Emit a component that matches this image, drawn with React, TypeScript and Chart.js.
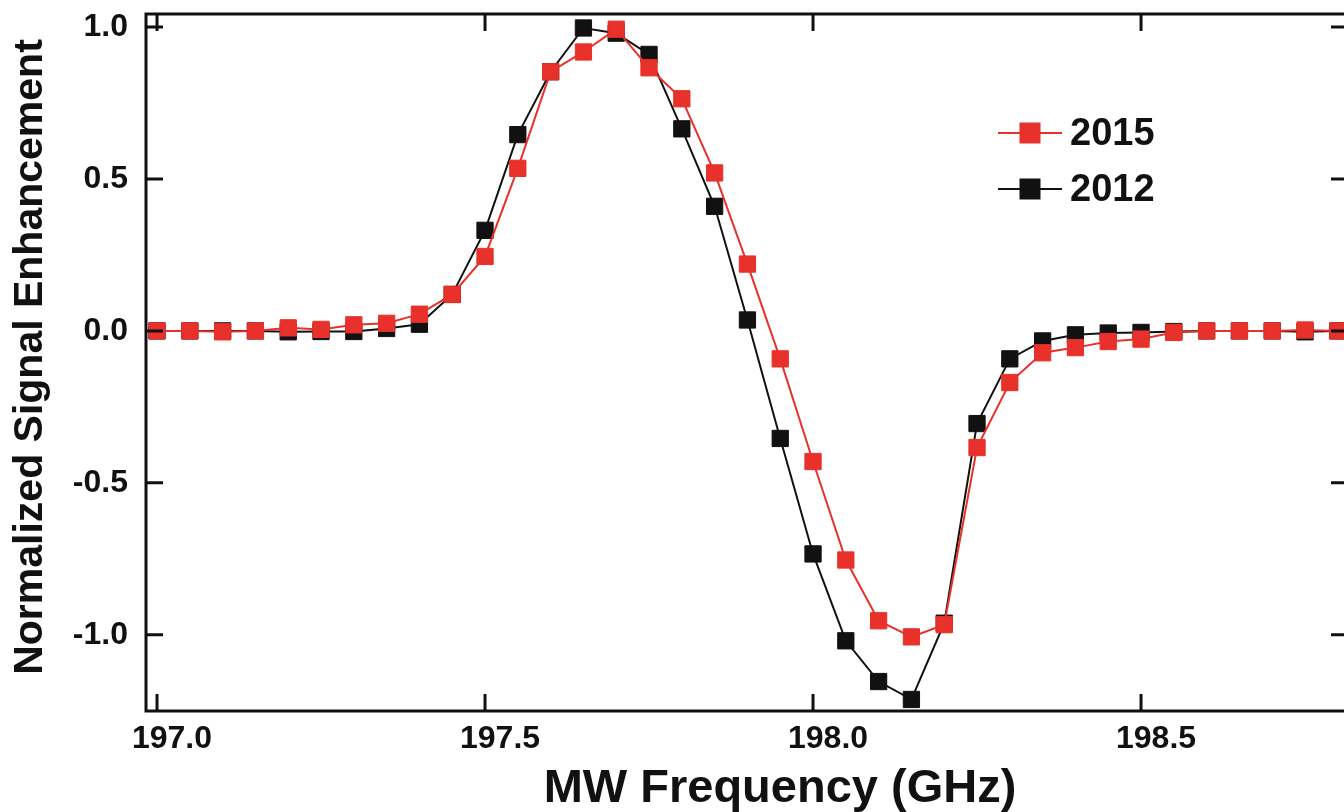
import React, { useEffect, useRef } from "react";
import { Chart, registerables } from "chart.js";

Chart.register(...registerables);

// ---- data ----
const frequencies = [
  197.0, 197.05, 197.1, 197.15, 197.2, 197.25, 197.3, 197.35, 197.4, 197.45,
  197.5, 197.55, 197.6, 197.65, 197.7, 197.75, 197.8, 197.85, 197.9, 197.95,
  198.0, 198.05, 198.1, 198.15, 198.2, 198.25, 198.3, 198.35, 198.4, 198.45,
  198.5, 198.55, 198.6, 198.65, 198.7, 198.75, 198.8,
];

const values2015 = [
  0, 0, -0.003, 0, 0.01, 0.005, 0.02, 0.025, 0.055, 0.12,
  0.245, 0.535, 0.853, 0.918, 0.993, 0.866, 0.764, 0.52, 0.22, -0.092,
  -0.43, -0.754, -0.954, -1.007, -0.967, -0.384, -0.17, -0.072, -0.055, -0.035,
  -0.027, -0.005, 0, 0, 0, 0.003, 0,
];

const values2012 = [
  0, 0, 0, 0, -0.003, -0.002, -0.002, 0.008, 0.022, 0.12,
  0.331, 0.646, 0.853, 0.997, 0.98, 0.91, 0.665, 0.41, 0.036, -0.354,
  -0.734, -1.02, -1.154, -1.213, -0.962, -0.305, -0.092, -0.033, -0.013, -0.007,
  -0.005, -0.002, 0, 0, 0, -0.003, 0,
];

const seriesLabels = ["2015", "2012"];
const seriesColors = ["#e8312a", "#111111"];

const xTickValues = [197.0, 197.5, 198.0, 198.5];
const yTickValues = [-1.0, -0.5, 0.0, 0.5, 1.0];

const xAxisTitle = "MW Frequency (GHz)";
const yAxisTitle = "Normalized Signal Enhancement";

// ---- styling ----
const FONT_FAMILY = "'Liberation Sans', Arial, Helvetica, sans-serif";
const INK = "#111111";
const CANVAS_W = 1352; // wider than the window: right frame falls just off-screen
const CANVAS_H = 812;

const framePlugin = {
  id: "frameTicks",
  afterDatasetsDraw(chart: any) {
    const { ctx, chartArea } = chart;
    const { left, right, top, bottom } = chartArea;
    const xs = chart.scales.x;
    const ys = chart.scales.y;
    const len = 17;
    ctx.save();
    ctx.strokeStyle = INK;
    ctx.lineWidth = 3;
    ctx.lineCap = "butt";
    ctx.beginPath();
    ctx.rect(left, top, right - left, bottom - top);
    ctx.stroke();
    ctx.beginPath();
    xTickValues.forEach((v) => {
      const px = xs.getPixelForValue(v);
      ctx.moveTo(px, bottom);
      ctx.lineTo(px, bottom - len);
      ctx.moveTo(px, top);
      ctx.lineTo(px, top + len);
    });
    yTickValues.forEach((v) => {
      const py = ys.getPixelForValue(v);
      ctx.moveTo(left, py);
      ctx.lineTo(left + len, py);
      ctx.moveTo(right, py);
      ctx.lineTo(right - len, py);
    });
    ctx.stroke();

    // axis titles
    ctx.fillStyle = INK;
    ctx.textAlign = "center";
    ctx.textBaseline = "middle";
    ctx.font = `bold 47px ${FONT_FAMILY}`;
    ctx.fillText(xAxisTitle, 780, 789);
    ctx.save();
    ctx.translate(31, 357);
    ctx.rotate(-Math.PI / 2);
    ctx.font = `bold 41px ${FONT_FAMILY}`;
    ctx.fillText(yAxisTitle, 0, 0);
    ctx.restore();
    ctx.restore();
  },
};

const legendPlugin = {
  id: "insideLegend",
  afterDraw(chart: any) {
    const { ctx } = chart;
    const rows = [133, 189];
    const lineX0 = 998;
    const lineX1 = 1062;
    const markX = 1030;
    const size = 21;
    const textX = 1070;
    ctx.save();
    chart.data.datasets.forEach((ds: any, i: number) => {
      const y = rows[i];
      ctx.strokeStyle = ds.borderColor;
      ctx.lineWidth = 2;
      ctx.beginPath();
      ctx.moveTo(lineX0, y);
      ctx.lineTo(lineX1, y);
      ctx.stroke();
      ctx.fillStyle = ds.backgroundColor;
      ctx.fillRect(markX - size / 2, y - size / 2, size, size);
      ctx.fillStyle = INK;
      ctx.font = `bold 38px ${FONT_FAMILY}`;
      ctx.textAlign = "left";
      ctx.textBaseline = "middle";
      ctx.fillText(ds.label, textX, y + 2);
    });
    ctx.restore();
  },
};

export default function App() {
  const canvasRef = useRef<HTMLCanvasElement | null>(null);

  useEffect(() => {
    document.body.style.margin = "0";
    document.body.style.background = "#ffffff";
    document.body.style.overflow = "hidden";
    const canvas = canvasRef.current;
    if (!canvas) return;

    const makeData = (vals: number[]) =>
      frequencies.map((f, i) => ({ x: f, y: vals[i] }));

    const datasets = [values2015, values2012].map((vals, i) => ({
      label: seriesLabels[i],
      data: makeData(vals),
      borderColor: seriesColors[i],
      backgroundColor: seriesColors[i],
      pointBackgroundColor: seriesColors[i],
      pointBorderColor: seriesColors[i],
      pointStyle: "rect" as const,
      pointRadius: 11.5,
      pointBorderWidth: 1,
      borderWidth: 2,
      tension: 0,
      fill: false,
    }));

    const tickFont = { family: FONT_FAMILY, size: 32, weight: "bold" as const };

    const chart = new Chart(canvas, {
      type: "line",
      data: { datasets },
      options: {
        animation: false,
        responsive: false,
        devicePixelRatio: 1,
        layout: {
          autoPadding: false,
          padding: { top: 14, right: 4, left: 0, bottom: 0 },
        },
        plugins: {
          legend: { display: false },
          tooltip: { enabled: false },
        },
        scales: {
          x: {
            type: "linear",
            min: 196.9832,
            max: 198.8155,
            afterBuildTicks: (s: any) => {
              s.ticks = xTickValues.map((v) => ({ value: v }));
            },
            afterFit: (s: any) => {
              s.height = 101;
              s.paddingLeft = 0;
              s.paddingRight = 0;
              s.paddingTop = 0;
              s.paddingBottom = 0;
            },
            grid: { display: false, drawTicks: false },
            border: { display: false },
            ticks: {
              font: tickFont,
              color: INK,
              padding: 9,
              labelOffset: 15,
              maxRotation: 0,
              autoSkip: false,
              callback: (v: any) => Number(v).toFixed(1),
            },
            title: { display: false },
          },
          y: {
            type: "linear",
            min: -1.251,
            max: 1.043,
            afterBuildTicks: (s: any) => {
              s.ticks = yTickValues.map((v) => ({ value: v }));
            },
            afterFit: (s: any) => {
              s.width = 146;
              s.paddingTop = 0;
              s.paddingBottom = 0;
              s.paddingLeft = 0;
              s.paddingRight = 0;
            },
            grid: { display: false, drawTicks: false },
            border: { display: false },
            ticks: {
              font: tickFont,
              color: INK,
              padding: 18,
              autoSkip: false,
              callback: (v: any) => Number(v).toFixed(1),
            },
            title: { display: false },
          },
        },
      },
      plugins: [framePlugin, legendPlugin],
    });

    return () => chart.destroy();
  }, []);

  return (
    <div style={{ width: 1344, height: 812, overflow: "hidden", background: "#fff" }}>
      <canvas
        ref={canvasRef}
        width={CANVAS_W}
        height={CANVAS_H}
        style={{ display: "block", width: CANVAS_W, height: CANVAS_H }}
      />
    </div>
  );
}
